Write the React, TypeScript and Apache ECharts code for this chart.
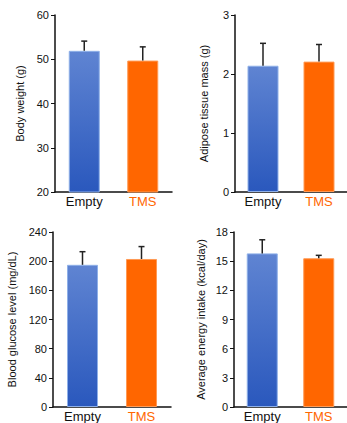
import React, { useEffect, useRef } from "react";
import * as echarts from "echarts";

const categories = ["Empty", "TMS"];
const bodyWeight = [51.9, 49.7];
const bodyWeightErr = [2.2, 3.1];
const adipose = [2.14, 2.21];
const adiposeErr = [0.38, 0.29];
const glucose = [195, 203];
const glucoseErr = [18, 17];
const energy = [15.8, 15.3];
const energyErr = [1.4, 0.3];

const panels = [
  { name: "Body weight (g)", values: bodyWeight, errs: bodyWeightErr, min: 20, max: 60, interval: 10, grid: { left: 55, top: 15, width: 117, height: 177 }, nameGap: 30 },
  { name: "Adipose tissue mass (g)", values: adipose, errs: adiposeErr, min: 0, max: 3, interval: 1, grid: { left: 235, top: 15, width: 114, height: 177 }, nameGap: 26 },
  { name: "Blood glucose level (mg/dL)", values: glucose, errs: glucoseErr, min: 0, max: 240, interval: 40, grid: { left: 53, top: 232, width: 118, height: 177 }, nameGap: 36 },
  { name: "Average energy intake (kcal/day)", values: energy, errs: energyErr, min: 0, max: 18, interval: 3, grid: { left: 234, top: 232, width: 115, height: 177 }, nameGap: 28 },
];

const FONT = "Liberation Sans, Arial, sans-serif";
const blue = new echarts.graphic.LinearGradient(0, 0, 0, 1, [
  { offset: 0, color: "#5f84d2" },
  { offset: 1, color: "#2a58bd" },
]);

export default function App() {
  const ref = useRef<HTMLDivElement>(null);
  useEffect(() => {
    if (!ref.current) return;
    const chart = echarts.init(ref.current, null, { renderer: "svg" });
    const grid = panels.map((p) => ({ ...p.grid, containLabel: false }));
    const xAxis = panels.map((_, i) => ({
      type: "category",
      gridIndex: i,
      data: categories.map((c, j) => ({
        value: c,
        textStyle: { color: j === 1 ? "#ff6600" : "#111" },
      })),
      axisLine: { lineStyle: { color: "#111", width: 1.5 } },
      axisTick: { show: false },
      axisLabel: { fontSize: 13, fontFamily: FONT, margin: 3 },
    }));
    const yAxis = panels.map((p, i) => ({
      type: "value",
      gridIndex: i,
      min: p.min,
      max: p.max,
      interval: p.interval,
      name: p.name,
      nameLocation: "middle",
      nameGap: p.nameGap,
      nameTextStyle: { fontSize: 11, fontFamily: FONT, color: "#111" },
      axisLine: { show: true, lineStyle: { color: "#111", width: 1.5 } },
      axisTick: { show: true, length: 4, lineStyle: { color: "#111" } },
      axisLabel: { fontSize: 11, fontFamily: FONT, color: "#111", margin: 6 },
      splitLine: { show: false },
    }));
    const series: any[] = [];
    panels.forEach((p, i) => {
      series.push({
        type: "bar",
        xAxisIndex: i,
        yAxisIndex: i,
        barWidth: 31,
        data: p.values.map((v, j) => ({
          value: v,
          itemStyle: {
            color: j === 0 ? blue : "#ff6600",
            borderColor: j === 0 ? "#8fb0e8" : "#ff9a55",
            borderWidth: 1,
          },
        })),
      });
      series.push({
        type: "custom",
        xAxisIndex: i,
        yAxisIndex: i,
        data: p.values.map((v, j) => [j, v, v + p.errs[j]]),
        z: 5,
        renderItem: (params: any, api: any) => {
          const x = api.value(0);
          const lo = api.coord([x, api.value(1)]);
          const hi = api.coord([x, api.value(2)]);
          const style = { stroke: "#222", lineWidth: 1.5 };
          return {
            type: "group",
            children: [
              { type: "line", shape: { x1: lo[0], y1: lo[1], x2: hi[0], y2: hi[1] }, style },
              { type: "line", shape: { x1: hi[0] - 3, y1: hi[1], x2: hi[0] + 3, y2: hi[1] }, style },
            ],
          };
        },
      });
    });
    chart.setOption({
      animation: false,
      backgroundColor: "#fff",
      grid,
      xAxis,
      yAxis,
      series,
    });
    return () => chart.dispose();
  }, []);
  return (
    <div
      ref={ref}
      style={{ position: "fixed", left: 0, top: 0, width: 347, height: 423 }}
    />
  );
}
